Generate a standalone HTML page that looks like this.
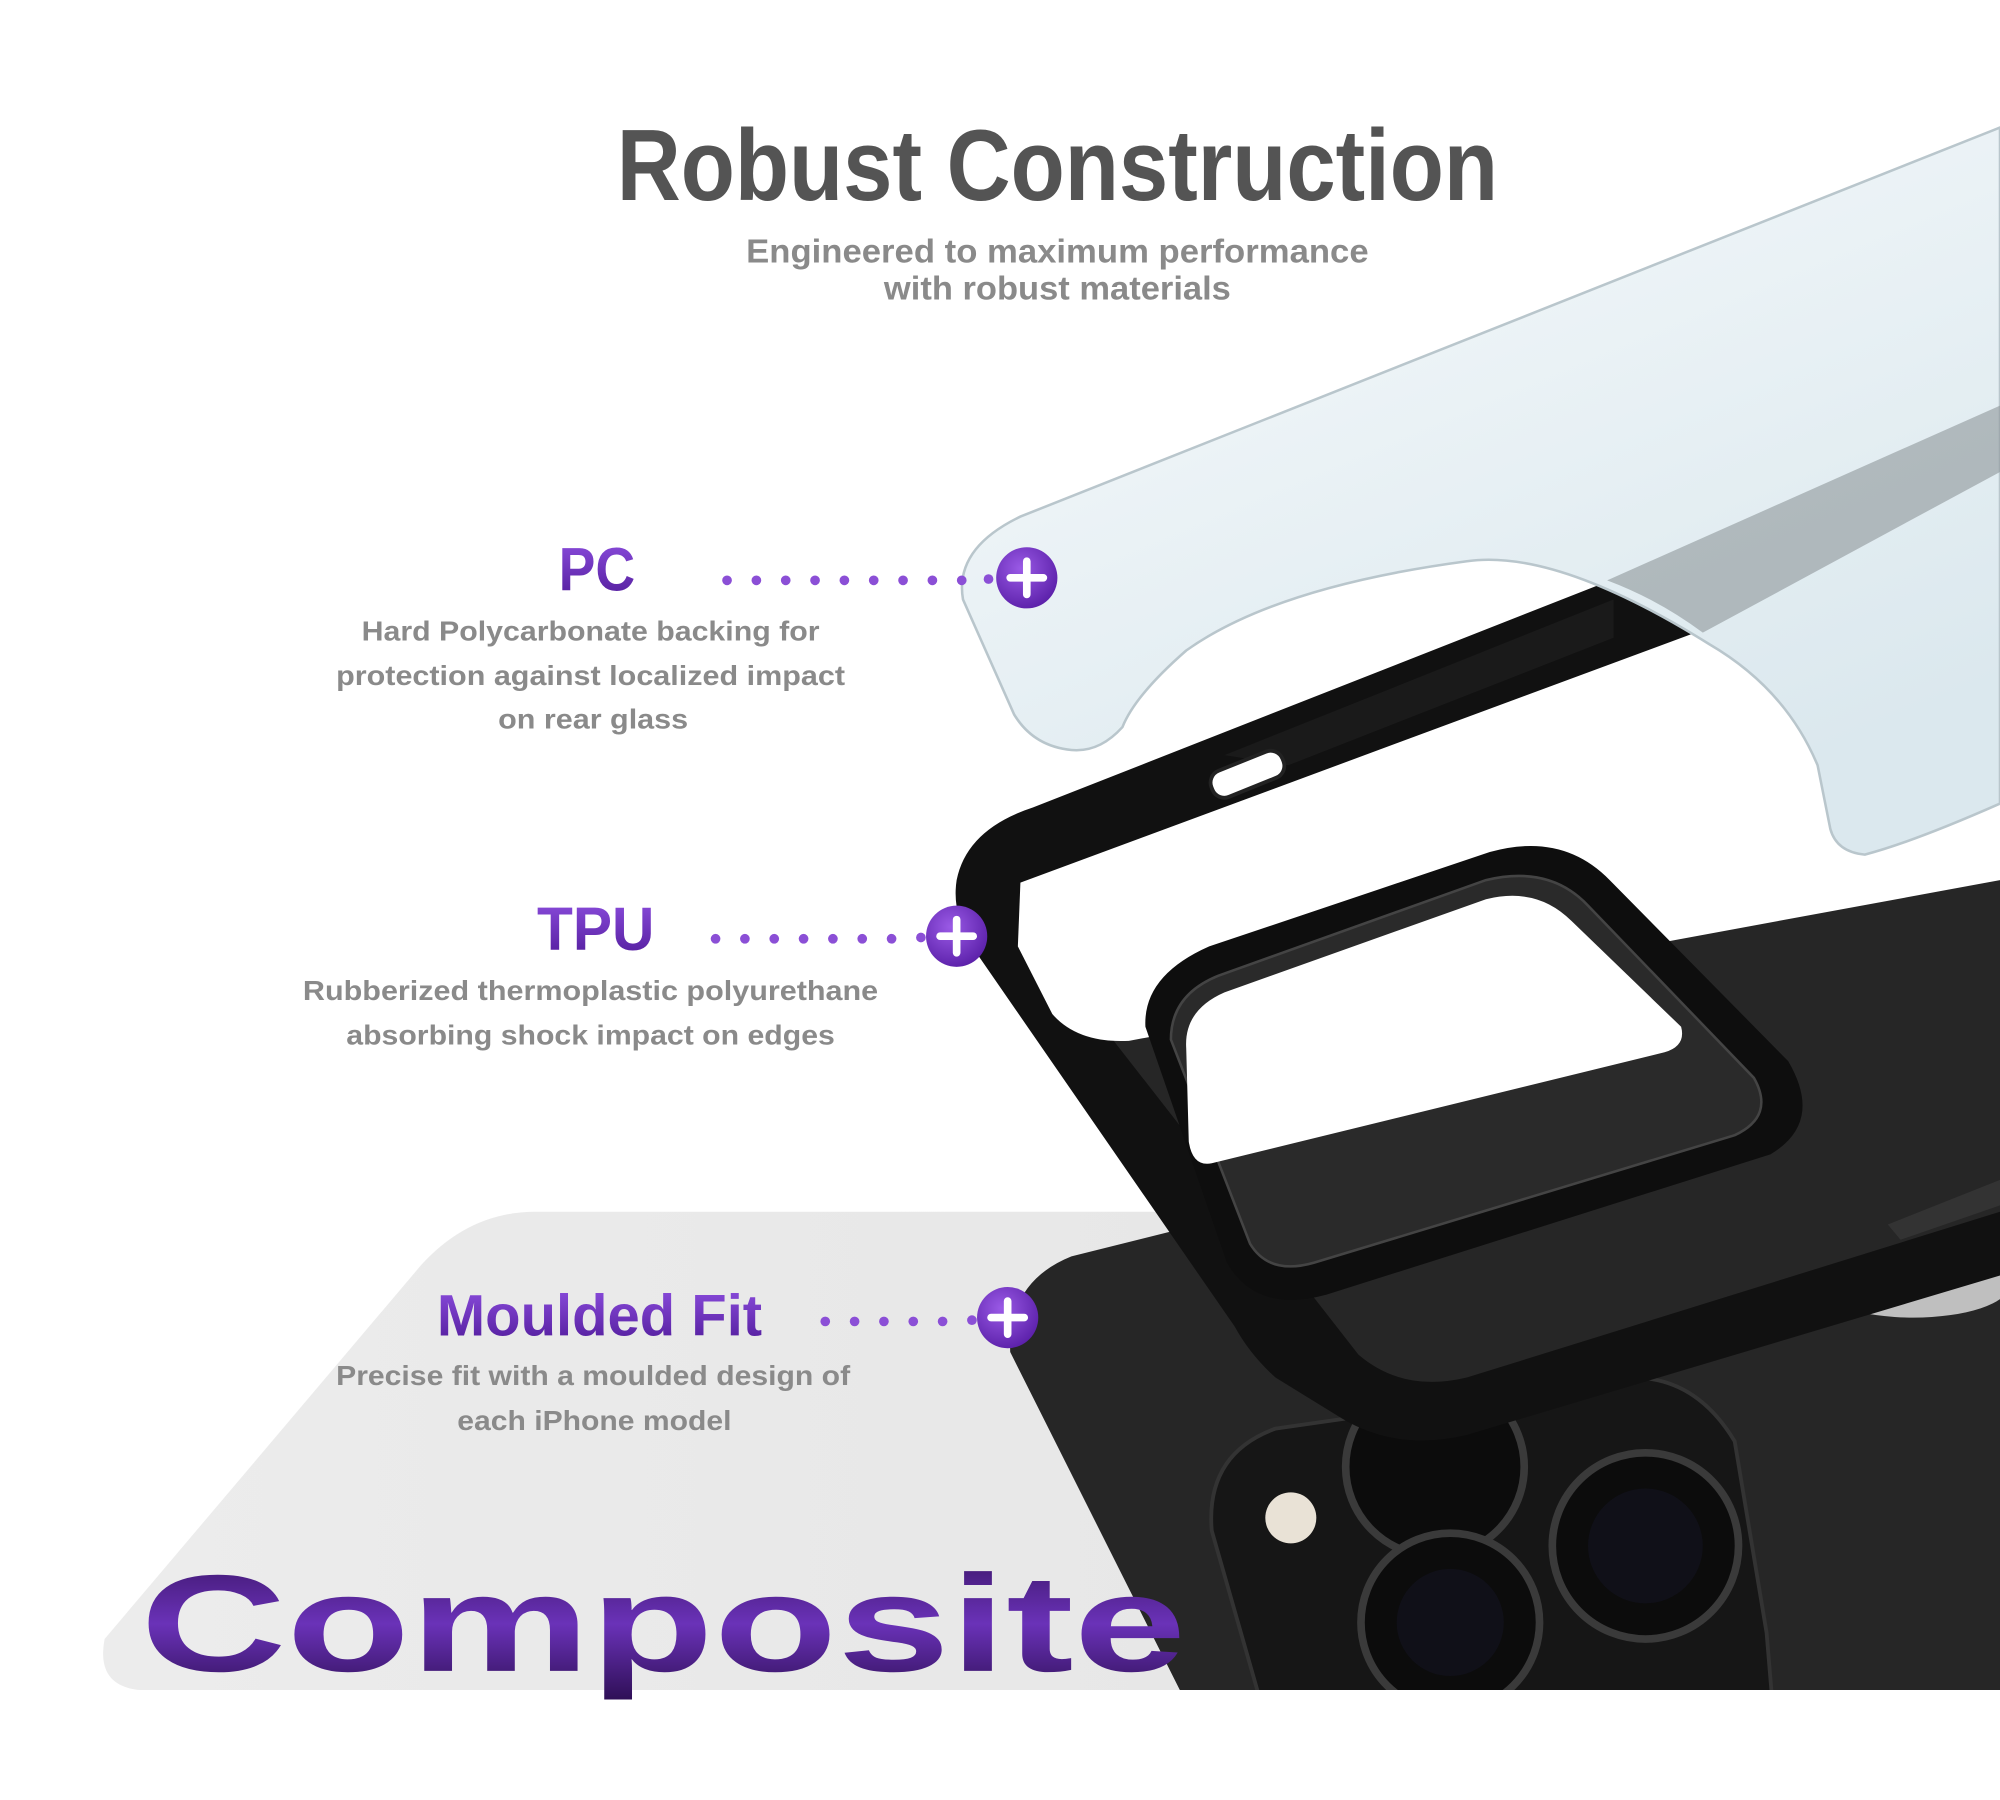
<!DOCTYPE html>
<html><head><meta charset="utf-8"><style>
html,body{margin:0;padding:0;background:#fff;}
svg{display:block;}
text{font-family:"Liberation Sans",sans-serif;font-weight:bold;}
</style></head><body>
<svg width="2000" height="1800" viewBox="0 0 1568 1411.2" preserveAspectRatio="none" xmlns="http://www.w3.org/2000/svg">
<defs>
<linearGradient id="pg" x1="0" y1="0" x2="0" y2="1"><stop offset="0" stop-color="#8e4fe0"/><stop offset="1" stop-color="#4f1a98"/></linearGradient>
<linearGradient id="cg" x1="0" y1="0" x2="0" y2="1"><stop offset="0" stop-color="#3a1466"/><stop offset="0.5" stop-color="#6a32b8"/><stop offset="1" stop-color="#2e0f55"/></linearGradient>
<radialGradient id="bg" cx="0.4" cy="0.35" r="0.7"><stop offset="0" stop-color="#9a5ae6"/><stop offset="1" stop-color="#5a1fa8"/></radialGradient>
<linearGradient id="sh" x1="0" y1="0" x2="0.6" y2="1"><stop offset="0" stop-color="#f8fbfc"/><stop offset="1" stop-color="#dbe8ee"/></linearGradient>
<linearGradient id="gy" x1="0" y1="0" x2="1" y2="0"><stop offset="0" stop-color="#ececec"/><stop offset="1" stop-color="#e6e6e6"/></linearGradient>
<clipPath id="cl"><rect x="0" y="0" width="1568" height="1325"/></clipPath>
</defs>
<rect width="1568" height="1411.2" fill="#fff"/>
<path d="M420,950 L1100,950 L1100,1325 L110,1325 Q75,1322 82,1285 L330,992 Q368,950 420,950 Z" fill="url(#gy)"/>
<g clip-path="url(#cl)">
<path d="M792,1060 Q790,1005 840,985 L1000,945 L1568,690 L1568,1325 L925,1325 Z" fill="#262626"/>
<path d="M950,1200 Q945,1140 1000,1120 L1280,1080 Q1330,1080 1360,1130 L1385,1280 L1390,1340 L990,1340 Z" fill="#161616" stroke="#333" stroke-width="3"/>
<circle cx="1012" cy="1190" r="20" fill="#e9e2d6"/>
<circle cx="1125" cy="1150" r="70" fill="#0c0c0c" stroke="#3a3a3a" stroke-width="6"/>
<circle cx="1290" cy="1212" r="73" fill="#0c0c0c" stroke="#3a3a3a" stroke-width="6"/>
<circle cx="1290" cy="1212" r="45" fill="#101018"/>
<circle cx="1137" cy="1272" r="70" fill="#0c0c0c" stroke="#3a3a3a" stroke-width="6"/>
<circle cx="1137" cy="1272" r="42" fill="#101018"/>
<ellipse cx="1500" cy="1008" rx="75" ry="25" fill="#bfbfbf"/>
<path d="M750,690 Q758,650 810,633 L1568,335 L1568,1000 L1150,1125 Q1095,1138 1052,1112 L1000,1080 Q980,1062 968,1040 L762,742 Q746,716 750,690 Z" fill="#111"/>
<path d="M800,692 L1340,492 L1568,405 L1568,950 L1150,1080 Q1100,1092 1065,1062 L870,812 Q800,745 800,692 Z" fill="#262626"/>
<path d="M800,692 L1340,492 L1568,420 L1568,690 L885,816 Q845,818 825,795 L798,742 Z" fill="#fff"/>
<path d="M1480,960 L1568,925 L1568,945 L1490,972Z" fill="#333"/>
<path d="M898,805 Q896,765 948,742 L1168,668 Q1225,652 1262,690 L1402,832 Q1430,880 1388,905 L1040,1015 Q985,1030 962,990 Z" fill="#0e0e0e"/>
<path d="M918,815 Q918,780 955,765 L1165,690 Q1215,678 1245,710 L1375,845 Q1392,875 1360,890 L1030,990 Q995,1000 980,975 Z" fill="#2a2a2a" stroke="#444" stroke-width="2"/>
<path d="M930,822 Q928,792 960,778 L1165,705 Q1205,695 1232,722 L1318,805 Q1322,820 1305,825 L950,912 Q935,915 932,895 Z" fill="#fff"/>
</g>
<path d="M755,470 Q748,430 800,405 L1568,100 L1568,630 Q1500,660 1462,670 Q1440,668 1435,650 L1425,600 Q1400,540 1340,505 Q1220,430 1150,440 Q1000,460 930,510 Q890,545 880,570 Q862,590 840,588 Q810,585 795,560 Z" fill="url(#sh)" stroke="#b9c6cc" stroke-width="2"/>
<path d="M1260,455 L1568,318 L1568,370 L1335,496 Q1300,470 1260,455 Z" fill="#8e9699" opacity="0.6"/>
<path d="M960,592 L1265,470 L1265,500 L1010,600 Z" fill="#1c1c1c" opacity="0.85"/>
<rect x="948" y="596" width="60" height="22" rx="10" fill="#fff" stroke="#222" stroke-width="3" transform="rotate(-22 978 607)"/>
<text x="829" y="157" font-size="79" fill="#545454" text-anchor="middle" textLength="691" lengthAdjust="spacingAndGlyphs">Robust Construction</text>
<text x="829" y="206" font-size="26" fill="#8a8a8a" text-anchor="middle" textLength="488" lengthAdjust="spacingAndGlyphs">Engineered to maximum performance</text>
<text x="829" y="235" font-size="26" fill="#8a8a8a" text-anchor="middle" textLength="272" lengthAdjust="spacingAndGlyphs">with robust materials</text>
<text x="468" y="463" font-size="48" fill="url(#pg)" text-anchor="middle" textLength="60" lengthAdjust="spacingAndGlyphs">PC</text>
<g fill="#8a8a8a" font-size="22" text-anchor="middle">
<text x="463" y="502" textLength="359" lengthAdjust="spacingAndGlyphs">Hard Polycarbonate backing for</text>
<text x="463" y="537" textLength="399" lengthAdjust="spacingAndGlyphs">protection against localized impact</text>
<text x="465" y="571" textLength="149" lengthAdjust="spacingAndGlyphs">on rear glass</text>
<text x="463" y="784" textLength="451" lengthAdjust="spacingAndGlyphs">Rubberized thermoplastic polyurethane</text>
<text x="463" y="819" textLength="383" lengthAdjust="spacingAndGlyphs">absorbing shock impact on edges</text>
<text x="465" y="1086" textLength="403" lengthAdjust="spacingAndGlyphs">Precise fit with a moulded design of</text>
<text x="466" y="1121" textLength="215" lengthAdjust="spacingAndGlyphs">each iPhone model</text>
</g>
<text x="467" y="745" font-size="48" fill="url(#pg)" text-anchor="middle" textLength="92" lengthAdjust="spacingAndGlyphs">TPU</text>
<text x="470" y="1047" font-size="46" fill="url(#pg)" text-anchor="middle" textLength="255" lengthAdjust="spacingAndGlyphs">Moulded Fit</text>
<g fill="#8b4fd6">
<circle cx="570" cy="455" r="3.8"/><circle cx="593" cy="455" r="3.8"/><circle cx="616" cy="455" r="3.8"/><circle cx="639" cy="455" r="3.8"/><circle cx="662" cy="455" r="3.8"/><circle cx="685" cy="455" r="3.8"/><circle cx="708" cy="455" r="3.8"/><circle cx="731" cy="455" r="3.8"/><circle cx="754" cy="455" r="3.8"/><circle cx="775" cy="454" r="3.8"/>
<circle cx="561" cy="736" r="3.8"/><circle cx="584" cy="736" r="3.8"/><circle cx="607" cy="736" r="3.8"/><circle cx="630" cy="736" r="3.8"/><circle cx="653" cy="736" r="3.8"/><circle cx="676" cy="736" r="3.8"/><circle cx="699" cy="736" r="3.8"/><circle cx="722" cy="735" r="3.8"/>
<circle cx="647" cy="1036" r="3.8"/><circle cx="670" cy="1036" r="3.8"/><circle cx="693" cy="1036" r="3.8"/><circle cx="716" cy="1036" r="3.8"/><circle cx="739" cy="1036" r="3.8"/><circle cx="762" cy="1035" r="3.8"/>
</g>
<g>
<circle cx="805" cy="453" r="24" fill="url(#bg)"/><path d="M805,440 V466 M792,453 H818" stroke="#fff" stroke-width="6" stroke-linecap="round"/>
<circle cx="750" cy="734" r="24" fill="url(#bg)"/><path d="M750,721 V747 M737,734 H763" stroke="#fff" stroke-width="6" stroke-linecap="round"/>
<circle cx="790" cy="1033" r="24" fill="url(#bg)"/><path d="M790,1020 V1046 M777,1033 H803" stroke="#fff" stroke-width="6" stroke-linecap="round"/>
</g>
<text x="110" y="1310" font-size="108" fill="url(#cg)" textLength="820" lengthAdjust="spacingAndGlyphs">Composite</text>
</svg>
</body></html>
